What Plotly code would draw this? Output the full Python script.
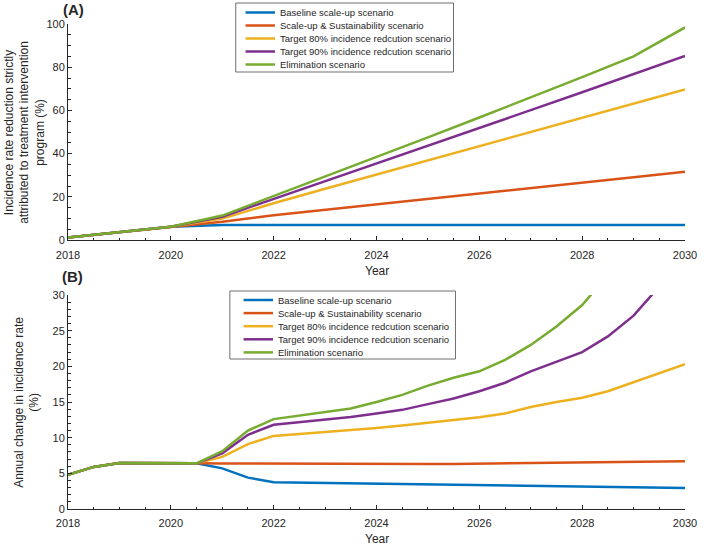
import plotly.graph_objects as go

# ---------------- data ----------------
series_names = [
    "Baseline scale-up scenario",
    "Scale-up & Sustainability scenario",
    "Target 80% incidence redcution scenario",
    "Target 90% incidence redcution scenario",
    "Elimination scenario",
]
colors = ["#0072BD", "#D95319", "#EDB120", "#7E2F8E", "#77AC30"]

# Panel A: incidence rate reduction attributed to treatment (%)
years_a = [2018, 2019, 2020, 2021, 2022, 2023, 2024, 2025, 2026, 2027, 2028, 2029, 2030]
baseline_a = [1.1, 3.6, 6.1, 7.0, 7.0, 7.0, 7.0, 7.0, 7.0, 7.0, 7.0, 7.0, 7.0]
sustain_a = [1.1, 3.6, 6.1, 8.5, 11.5, 14.0, 16.4, 18.8, 21.2, 23.8, 26.4, 29.0, 31.6]
target80_a = [1.1, 3.6, 6.1, 9.9, 17.0, 23.7, 30.3, 36.7, 43.2, 49.8, 56.4, 63.0, 69.7]
target90_a = [1.1, 3.6, 6.1, 10.8, 19.0, 27.1, 35.3, 43.4, 51.8, 60.1, 68.4, 76.8, 85.2]
elim_a = [1.1, 3.6, 6.1, 11.3, 20.3, 29.3, 38.3, 47.5, 56.7, 66.0, 75.4, 85.0, 98.4]

# Panel B: annual change in incidence rate (%)
years_b = [2018, 2018.5, 2019, 2019.5, 2020, 2020.5, 2021, 2021.5, 2022, 2022.5,
           2023, 2023.5, 2024, 2024.5, 2025, 2025.5, 2026, 2026.5, 2027, 2027.5,
           2028, 2028.5, 2029, 2029.5, 2030]
baseline_b = [4.8, 5.9, 6.45, 6.4, 6.4, 6.4, 5.7, 4.4, 3.75, 3.7,
              3.65, 3.6, 3.55, 3.45, 3.4, 3.35, 3.3, 3.25, 3.2, 3.15,
              3.1, 3.05, 3.02, 2.98, 2.95]
sustain_b = [4.8, 5.9, 6.45, 6.4, 6.4, 6.4, 6.38, 6.36, 6.35, 6.35,
             6.33, 6.32, 6.3, 6.3, 6.3, 6.32, 6.35, 6.38, 6.42, 6.46,
             6.5, 6.55, 6.6, 6.65, 6.7]
target80_b = [4.8, 5.9, 6.45, 6.4, 6.4, 6.4, 7.3, 9.1, 10.25, 10.5,
              10.8, 11.05, 11.35, 11.7, 12.1, 12.5, 12.85, 13.4, 14.3, 15.0,
              15.6, 16.5, 17.8, 19.0, 20.3]
target90_b = [4.8, 5.9, 6.45, 6.4, 6.4, 6.4, 7.8, 10.4, 11.8, 12.15,
              12.5, 12.9, 13.4, 13.9, 14.7, 15.5, 16.5, 17.7, 19.3, 20.7,
              22.0, 24.2, 27.1, 31.2]
elim_b = [4.8, 5.9, 6.45, 6.4, 6.4, 6.4, 8.1, 11.0, 12.6, 13.1,
          13.5, 14.1, 15.0, 16.0, 17.3, 18.4, 19.3, 20.9, 23.0, 25.6,
          28.6, 32.8]

xticks = [2018, 2020, 2022, 2024, 2026, 2028, 2030]

# ---------------- layout helpers ----------------
W, H = 708, 545
ML, MR, MT, MB = 68, 11, 24, 36
PW, PH = W - ML - MR, H - MT - MB


def px(x):
    return (x - ML) / PW


def py(y):
    return (H - MB - y) / PH


FONT = "Liberation Sans, Arial, Helvetica, sans-serif"
INK = "#262626"
LW = 2.5

fig = go.Figure()

series_a = [baseline_a, sustain_a, target80_a, target90_a, elim_a]
series_b = [baseline_b, sustain_b, target80_b, target90_b, elim_b]

for name, col, ys in zip(series_names, colors, series_a):
    fig.add_trace(go.Scatter(x=years_a[:len(ys)], y=ys, mode="lines", name=name,
                             line=dict(color=col, width=LW), showlegend=False,
                             xaxis="x", yaxis="y"))
for name, col, ys in zip(series_names, colors, series_b):
    fig.add_trace(go.Scatter(x=years_b[:len(ys)], y=ys, mode="lines", name=name,
                             line=dict(color=col, width=LW), showlegend=False,
                             xaxis="x2", yaxis="y2"))


def axis_style(**kw):
    d = dict(showline=True, linecolor=INK, linewidth=1, mirror=False,
             ticks="inside", ticklen=4, tickwidth=1, tickcolor=INK,
             showgrid=False, zeroline=False, ticklabeloverflow="allow",
             tickfont=dict(size=11, color=INK, family=FONT))
    d.update(kw)
    return d


xminor = dict(ticks="inside", ticklen=2.5, tickcolor=INK, dtick=0.5, tick0=2018)

fig.update_layout(
    width=W, height=H,
    margin=dict(l=ML, r=MR, t=MT, b=MB),
    paper_bgcolor="white", plot_bgcolor="white",
    font=dict(family=FONT, color=INK),
    showlegend=False,
    xaxis=axis_style(domain=[0, 1], range=[2018, 2030], tickvals=xticks,
                     ticklabelstandoff=5, minor=xminor, anchor="y"),
    yaxis=axis_style(domain=[py(240), py(24)], range=[0, 100], dtick=20,
                     minor=dict(ticks="inside", ticklen=2.5, tickcolor=INK, dtick=5),
                     anchor="x"),
    xaxis2=axis_style(domain=[0, 1], range=[2018, 2030], tickvals=xticks,
                      ticklabelstandoff=4, minor=xminor, anchor="y2"),
    yaxis2=axis_style(domain=[py(509), py(295)], range=[0, 30], dtick=5,
                      minor=dict(ticks="inside", ticklen=2.5, tickcolor=INK, dtick=1),
                      anchor="x2"),
)

annotations = []
shapes = []


def ann(text, x, y, size=12, angle=0, xanchor="center"):
    annotations.append(dict(text=text, x=px(x), y=py(y), xref="paper", yref="paper",
                            showarrow=False, textangle=angle, xanchor=xanchor,
                            yanchor="middle", font=dict(size=size, color=INK, family=FONT)))


# axis titles and panel labels
ann("Incidence rate reduction strictly<br>attributed to treatment intervention<br>program (%)",
    23, 132, angle=-90)
ann("Annual change in incidence rate<br>(%)", 26, 402, angle=-90)
ann("Year", 382.5, 271)
ann("Year", 382.5, 539)
ann("<b>(A)</b>", 74, 9, size=15)
ann("<b>(B)</b>", 73, 276, size=15)


# custom compact legends
def legend(box, x_line0, x_line1, x_text, y0, dy):
    x0, y_top, x1, y_bot = box
    shapes.append(dict(type="rect", xref="paper", yref="paper",
                       x0=px(x0), x1=px(x1), y0=py(y_bot), y1=py(y_top),
                       line=dict(color="#6e6e6e", width=1), fillcolor="white", layer="above"))
    for i, (name, col) in enumerate(zip(series_names, colors)):
        yy = y0 + i * dy
        shapes.append(dict(type="line", xref="paper", yref="paper",
                           x0=px(x_line0), x1=px(x_line1), y0=py(yy), y1=py(yy),
                           line=dict(color=col, width=LW), layer="above"))
        ann(name, x_text, yy, size=9.5, xanchor="left")


legend((239, 3, 461, 72), 249, 279, 282, 12.5, 13)
legend((233, 291, 463, 359), 247, 277, 280, 300, 13.1)

fig.update_layout(annotations=annotations, shapes=shapes)

fig.write_html("out.html", config={"displayModeBar": False},
               post_script="document.body.style.margin='0';document.body.style.overflow='hidden';")
